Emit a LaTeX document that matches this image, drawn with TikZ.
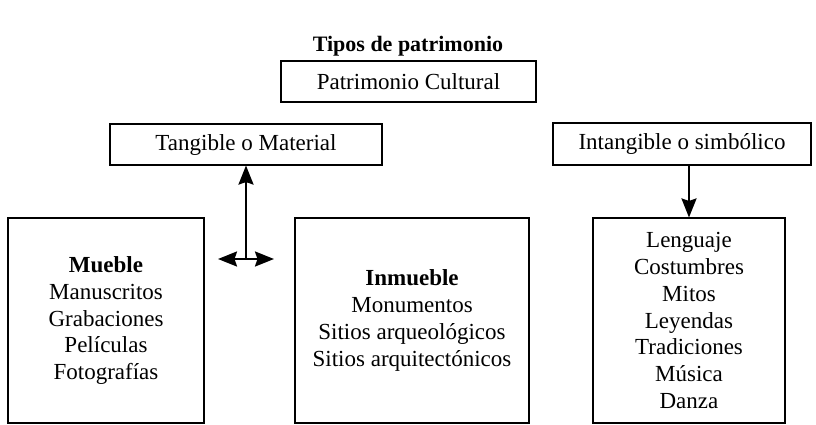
\documentclass[tikz,border=0pt]{standalone}
\usepackage{fontspec}
\setmainfont{Liberation Serif}
\usetikzlibrary{arrows.meta}
\begin{document}
\begin{tikzpicture}[x=1pt,y=-1pt,
  box/.style={draw,line width=1.1pt,rectangle,inner sep=0pt,align=center,
    font=\fontsize{23}{26.7}\selectfont},
  tip/.tip={Stealth[length=19pt,width=15pt,inset=2.5pt]},
  conn/.style={line width=2.3pt,-tip},
  dconn/.style={line width=2.3pt,tip-tip}]
\useasboundingbox (0,0) rectangle (816,424);
\node[font=\fontsize{22}{26}\selectfont\bfseries] (title) at (408,46) {Tipos de patrimonio};
\node[box,minimum width=255pt,minimum height=41pt] (pc) at (408.5,81.5) {Patrimonio Cultural};
\node[box,minimum width=272pt,minimum height=41pt] (tm) at (246,144.5) {Tangible o Material};
\node[box,minimum width=258pt,minimum height=42pt] (is) at (682,144) {Intangible o simbólico};
\node[box,minimum width=196pt,minimum height=205pt] (mb) at (106,320.5) {\textbf{Mueble}\\Manuscritos\\Grabaciones\\Películas\\Fotografías};
\node[box,minimum width=234pt,minimum height=205pt] (im) at (412,320.5) {\textbf{Inmueble}\\Monumentos\\Sitios arqueológicos\\Sitios arquitectónicos};
\node[box,minimum width=192pt,minimum height=205pt] (it) at (689,320.5) {Lenguaje\\Costumbres\\Mitos\\Leyendas\\Tradiciones\\Música\\Danza};
\coordinate (j) at (246,259);
\coordinate (jl) at (218,259);
\coordinate (jr) at (274,259);
\draw[conn] (j) -- (tm.south);
\draw[dconn] (jl) -- (jr);
\draw[conn] (is.south -| it.north) -- (it.north);
\end{tikzpicture}
\end{document}
